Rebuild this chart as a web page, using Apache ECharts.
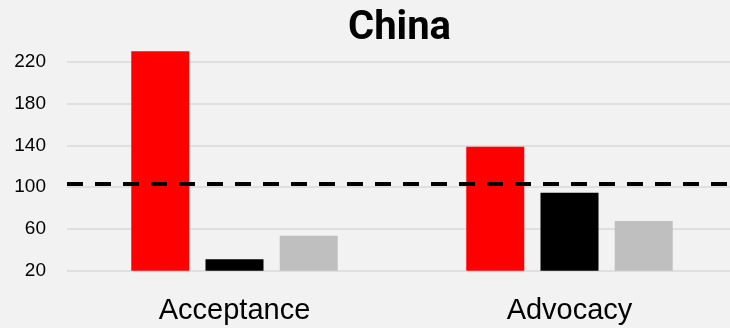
<!DOCTYPE html>
<html>
<head>
<meta charset="utf-8">
<script src="https://cdn.jsdelivr.net/npm/echarts@6/dist/echarts.min.js"></script>
<style>
html,body{margin:0;padding:0;background:#f2f2f2;}
#chart{width:730px;height:328px;}
</style>
</head>
<body>
<div id="chart"></div>
<script>
const categories = ['Acceptance', 'Advocacy'];
const redValues = [230, 138.5];
const blackValues = [31, 94.5];
const grayValues = [53.5, 67.5];
const benchmark = 103.5;
const yTicks = { min: 20, max: 240, interval: 40 };

const chart = echarts.init(document.getElementById('chart'), null, { renderer: 'canvas' });
const barCommon = { type: 'bar', barWidth: 58, barGap: '28%' };
chart.setOption({
  backgroundColor: '#f2f2f2',
  animation: false,
  title: {
    text: 'China',
    left: 343,
    top: 4,
    textStyle: { fontFamily: 'Roboto', fontWeight: 'bold', fontSize: 40, color: '#000' }
  },
  grid: { left: 67, top: 40.8, right: -7, bottom: 57.3, outerBoundsMode: 'none', containLabel: false },
  xAxis: {
    type: 'category',
    data: categories,
    axisLine: { show: false },
    axisTick: { show: false },
    axisLabel: { fontFamily: 'Liberation Sans', fontSize: 29, color: '#000', margin: 26 }
  },
  yAxis: {
    type: 'value',
    min: yTicks.min,
    max: yTicks.max,
    interval: yTicks.interval,
    axisLine: { show: false },
    axisTick: { show: false },
    axisLabel: { fontFamily: 'Liberation Sans', fontSize: 19, color: '#000', margin: 21, showMaxLabel: false },
    splitLine: { lineStyle: { color: ['#d9d9d9', '#d9d9d9', '#d9d9d9', '#d9d9d9', '#d9d9d9', '#d9d9d9', 'rgba(0,0,0,0)'], width: 1.5 } }
  },
  series: [
    Object.assign({}, barCommon, {
      name: 'Red', data: redValues, itemStyle: { color: '#ff0000' },
      markLine: {
        silent: true, symbol: 'none', label: { show: false },
        lineStyle: { color: '#000', width: 4, type: [16, 12] },
        data: [{ yAxis: benchmark }]
      }
    }),
    Object.assign({}, barCommon, { name: 'Black', data: blackValues, itemStyle: { color: '#000000' } }),
    Object.assign({}, barCommon, { name: 'Gray', data: grayValues, itemStyle: { color: '#bfbfbf' } })
  ]
});
</script>
</body>
</html>
